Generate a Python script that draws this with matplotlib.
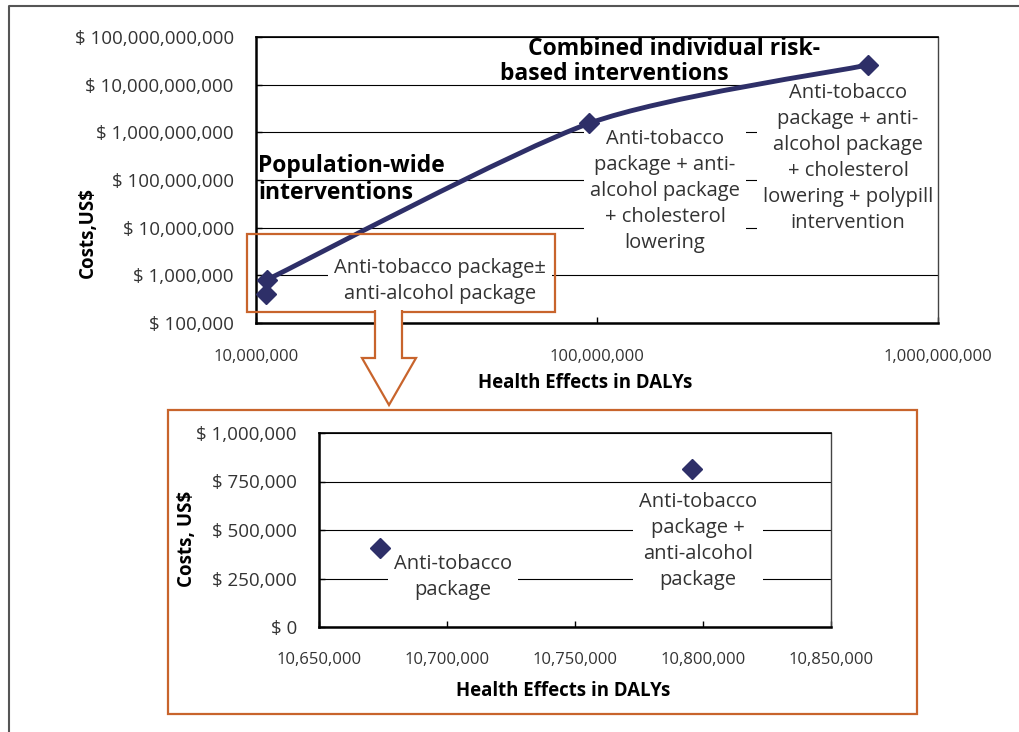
import numpy as np
import matplotlib
matplotlib.use("Agg")
import matplotlib.pyplot as plt
from matplotlib.patches import Rectangle, Polygon, PathPatch
from matplotlib.path import Path
from matplotlib.ticker import FuncFormatter, FixedLocator, NullLocator

W, H = 1019, 732
plt.rcParams['font.family'] = ['Open Sans', 'DejaVu Sans']

# --- data ---
dalys = [10673800, 10795600, 95000000, 625000000]
costs = [408000, 813000, 1550000000, 26000000000]
zoom_dalys = [10673800, 10795600]
zoom_costs = [408000, 813000]

top_xticks = [1e7, 1e8, 1e9]
top_yticks = [1e5, 1e6, 1e7, 1e8, 1e9, 1e10, 1e11]
bot_xticks = [10650000, 10700000, 10750000, 10800000, 10850000]
bot_yticks = [0, 250000, 500000, 750000, 1000000]

top_labels = ["Anti-tobacco package\u00b1\nanti-alcohol package",
              "Anti-tobacco\npackage + anti-\nalcohol package\n+ cholesterol\nlowering",
              "Anti-tobacco\npackage + anti-\nalcohol package\n+ cholesterol\nlowering + polypill\nintervention"]
bot_labels = ["Anti-tobacco\npackage",
              "Anti-tobacco\npackage +\nanti-alcohol\npackage"]

NAVY = '#2e2f68'
ORANGE = '#c8642c'
GREY = '#333333'


def px(x, y):
    # pixel position -> figure fraction
    return x / W, 1 - y / H


def smooth_path(xs, ys, t=1 / 8):
    # smoothed line, bezier control points in log space
    p = np.column_stack([np.log10(xs), np.log10(ys)])
    n = len(p)
    verts = [p[0]]
    codes = [Path.MOVETO]
    for i in range(n - 1):
        prev = p[max(i - 1, 0)]
        nxt = p[min(i + 2, n - 1)]
        verts += [p[i] + (p[i + 1] - prev) * t, p[i + 1] - (nxt - p[i]) * t, p[i + 1]]
        codes += [Path.CURVE4] * 3
    return Path(10 ** np.array(verts), codes)


def style_axes(ax):
    ax.set_axisbelow(True)
    ax.grid(axis='y', color='black', lw=0.8)
    ax.grid(axis='x', visible=False)
    for s in ['left', 'bottom']:
        ax.spines[s].set_linewidth(1.8)
        ax.spines[s].set_color('black')
    ax.spines['top'].set_linewidth(1.2)
    ax.spines['right'].set_linewidth(1.0)
    ax.spines['right'].set_color('#444444')
    ax.tick_params(which='both', direction='in', length=4, width=1, colors='black',
                   labelcolor=GREY)


fig = plt.figure(figsize=(W / 100, H / 100), dpi=100)

# ---------------- top chart (log-log) ----------------
ax1 = fig.add_axes([256 / W, 1 - 323 / H, 682 / W, 286 / H])
ax1.set_xscale('log')
ax1.set_yscale('log')
ax1.set_xlim(1e7, 1e9)
ax1.set_ylim(1e5, 1e11)
style_axes(ax1)
ax1.xaxis.set_major_locator(FixedLocator(top_xticks))
ax1.yaxis.set_major_locator(FixedLocator(top_yticks))
ax1.xaxis.set_minor_locator(NullLocator())
ax1.yaxis.set_minor_locator(NullLocator())
ax1.xaxis.set_major_formatter(FuncFormatter(lambda v, p: f"{v:,.0f}"))
ax1.yaxis.set_major_formatter(FuncFormatter(lambda v, p: f"$ {v:,.0f}"))
ax1.tick_params(axis='y', labelsize=13.5, pad=16)
ax1.tick_params(axis='x', labelsize=12, pad=19)

ax1.add_patch(PathPatch(smooth_path(dalys[1:], costs[1:]), fill=False, ec=NAVY, lw=3.5,
                        zorder=4, capstyle='round'))
ax1.plot(dalys, costs, ls='none', marker='D', ms=10.5, color=NAVY, zorder=5, clip_on=False)

bold = dict(transform=fig.transFigure, fontsize=16.5, fontweight='bold', ha='left',
            va='center', zorder=3)
ax1.text(*px(258, 166), "Population-wide", **bold)
ax1.text(*px(258, 193), "interventions", **bold)
ax1.text(*px(528, 49), "Combined individual risk-", **bold)
ax1.text(*px(500, 74), "based interventions", **bold)

# label boxes sit under the spines but over the gridlines
box = dict(fc='white', ec='none', pad=4)
for (x, y), s in zip([(440, 281), (665, 191), (848, 158)], top_labels):
    ax1.text(*px(x, y), s, transform=fig.transFigure, fontsize=14.5, color=GREY, ha='center',
             va='center', linespacing=1.4, bbox=box, zorder=2)

fig.text(*px(585, 383), "Health Effects in DALYs", fontsize=13.4, fontweight='bold',
         ha='center', va='center')
fig.text(*px(88, 233), "Costs,US$", fontsize=13.5, fontweight='bold', rotation=90,
         ha='center', va='center')

# ---------------- bottom chart (zoom) ----------------
ax2 = fig.add_axes([319 / W, 1 - 627 / H, 512 / W, 194 / H])
ax2.set_xlim(10650000, 10850000)
ax2.set_ylim(0, 1000000)
style_axes(ax2)
ax2.xaxis.set_major_locator(FixedLocator(bot_xticks))
ax2.yaxis.set_major_locator(FixedLocator(bot_yticks))
ax2.xaxis.set_major_formatter(FuncFormatter(lambda v, p: f"{v:,.0f}"))
ax2.yaxis.set_major_formatter(FuncFormatter(lambda v, p: f"$ {v:,.0f}"))
ax2.tick_params(axis='y', labelsize=13.5, pad=16)
ax2.tick_params(axis='x', labelsize=12, pad=18)
ax2.plot(zoom_dalys, zoom_costs, ls='none', marker='D', ms=10.5, color=NAVY, zorder=5)

for (x, y), s in zip([(453, 577), (698, 541)], bot_labels):
    ax2.text(*px(x, y), s, transform=fig.transFigure, fontsize=14.5, color=GREY, ha='center',
             va='center', linespacing=1.4, bbox=box, zorder=2)

fig.text(*px(563, 691), "Health Effects in DALYs", fontsize=13.4, fontweight='bold',
         ha='center', va='center')
fig.text(*px(187, 539), "Costs, US$", fontsize=13.5, fontweight='bold', rotation=90,
         ha='center', va='center')

# ---------------- zoom box, arrow and outer frame ----------------
def fig_rect(x0, y0, x1, y1):
    return Rectangle(px(x0, y1), (x1 - x0) / W, (y1 - y0) / H, transform=fig.transFigure,
                     fill=False, ec=ORANGE, lw=1.6, zorder=6)

fig.patches.append(fig_rect(247, 234, 555, 312))
fig.patches.append(fig_rect(168, 410, 917, 714))
arrow = [(375, 310), (375, 358), (362, 358), (389, 405), (416, 358), (402, 358), (402, 310)]
fig.patches.append(Polygon([px(x, y) for x, y in arrow], closed=False, transform=fig.transFigure,
                           fc='white', ec=ORANGE, lw=1.6, zorder=7))

fig.lines.append(plt.Line2D([9 / W, 9 / W, 1], [0, 1 - 6 / H, 1 - 6 / H], transform=fig.transFigure,
                            color='#555555', lw=1.5))

fig.savefig('out.png', dpi=100)
